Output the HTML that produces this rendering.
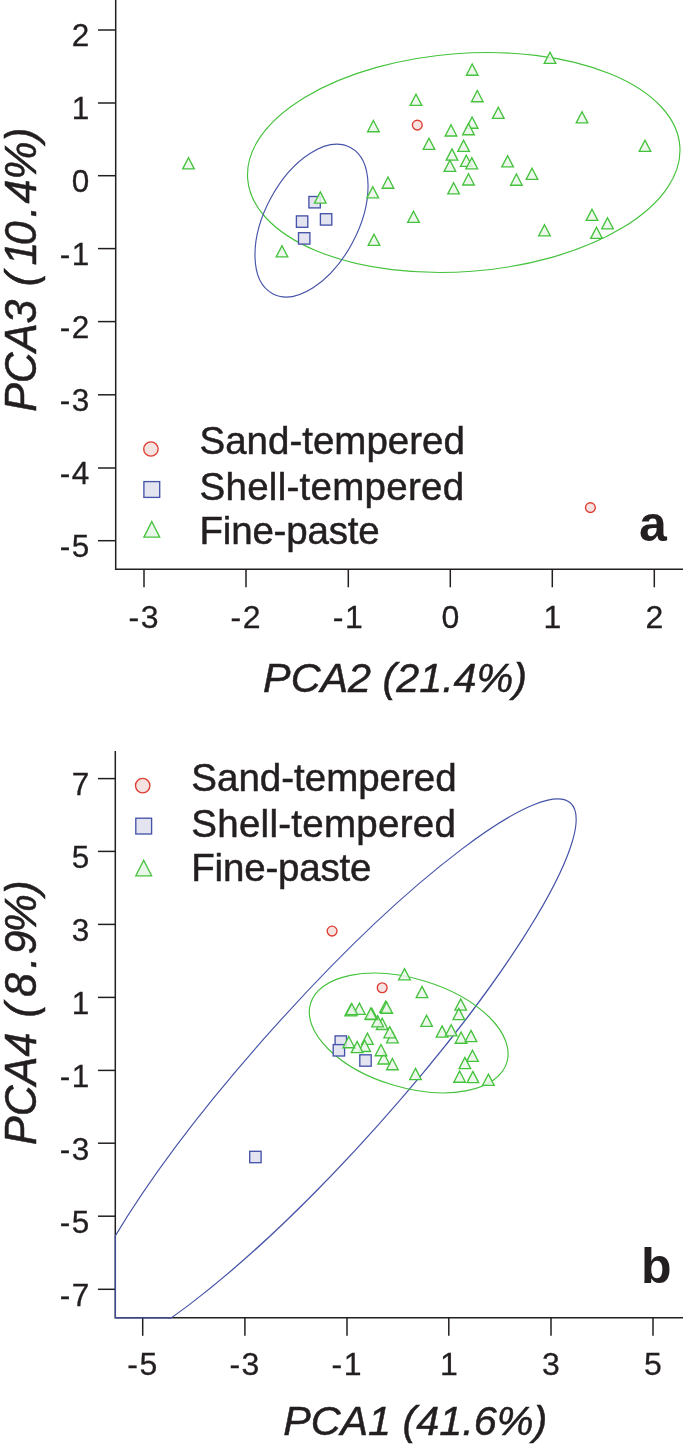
<!DOCTYPE html>
<html lang="en">
<head>
<meta charset="utf-8">
<title>PCA score plots</title>
<style>
html,body{margin:0;padding:0;background:#fff;}
svg{display:block;}
</style>
</head>
<body>
<svg width="685" height="1445" viewBox="0 0 685 1445">
<rect x="0" y="0" width="685" height="1445" fill="#ffffff"/>
<g stroke="#231f20" stroke-width="1.5" fill="none">
<path d="M115.7,0 V569.3 H683"/>
<path d="M98,30 H115.7"/>
<path d="M98,103 H115.7"/>
<path d="M98,175.7 H115.7"/>
<path d="M98,248.6 H115.7"/>
<path d="M98,321.6 H115.7"/>
<path d="M98,394.8 H115.7"/>
<path d="M98,468 H115.7"/>
<path d="M98,540.7 H115.7"/>
<path d="M144,569.3 V587.3"/>
<path d="M246,569.3 V587.3"/>
<path d="M348.3,569.3 V587.3"/>
<path d="M450.3,569.3 V587.3"/>
<path d="M552.3,569.3 V587.3"/>
<path d="M654.3,569.3 V587.3"/>
<path d="M115.3,751 V1317.8 H683"/>
<path d="M98,778.6 H115.3"/>
<path d="M98,851.4 H115.3"/>
<path d="M98,924.4 H115.3"/>
<path d="M98,997.4 H115.3"/>
<path d="M98,1070.4 H115.3"/>
<path d="M98,1143.2 H115.3"/>
<path d="M98,1216.2 H115.3"/>
<path d="M98,1289.3 H115.3"/>
<path d="M142.7,1317.8 V1335.8"/>
<path d="M244.9,1317.8 V1335.8"/>
<path d="M347,1317.8 V1335.8"/>
<path d="M448.8,1317.8 V1335.8"/>
<path d="M551,1317.8 V1335.8"/>
<path d="M653,1317.8 V1335.8"/>
</g>
<ellipse cx="463.75" cy="162.5" rx="216.7" ry="109.1" transform="rotate(-4.33 463.75 162.5)" fill="none" stroke="#45c23d" stroke-width="1.15"/>
<ellipse cx="311.5" cy="220.6" rx="82.8" ry="46.5" transform="rotate(-62 311.5 220.6)" fill="none" stroke="#4553a8" stroke-width="1.15"/>
<clipPath id="cb"><rect x="114.8" y="740" width="600" height="578.5"/></clipPath>
<g clip-path="url(#cb)"><ellipse cx="325.4" cy="1077" rx="367.6" ry="71.3" transform="rotate(-48.19 325.4 1077)" fill="none" stroke="#4553a8" stroke-width="1.15"/></g>
<path d="M115.3,1235.9 V1317.8 H171.3" fill="none" stroke="#4553a8" stroke-width="1.15"/>
<ellipse cx="408.7" cy="1033" rx="102.5" ry="54.35" transform="rotate(16.7 408.7 1033)" fill="none" stroke="#45c23d" stroke-width="1.15"/>
<g fill="#e4e4f1" stroke="#4553a8" stroke-width="1.35"><rect x="308.9" y="196.5" width="11.4" height="11.4"/><rect x="296.4" y="215.9" width="11.4" height="11.4"/><rect x="320.4" y="213.7" width="11.4" height="11.4"/><rect x="298.5" y="232.7" width="11.4" height="11.4"/></g>
<g fill="#f5e3e2" stroke="#df3b31" stroke-width="1.35"><circle cx="417.3" cy="125.1" r="4.9"/><circle cx="590.4" cy="507.6" r="4.9"/></g>
<g fill="#eaf6e9" fill-opacity="0.85" stroke="#45c23d" stroke-width="1.35" stroke-linejoin="miter"><polygon points="550.0,52.2 555.8,63.4 544.2,63.4"/><polygon points="472.2,64.0 478.0,75.2 466.4,75.2"/><polygon points="416.0,94.2 421.8,105.4 410.2,105.4"/><polygon points="477.3,90.5 483.1,101.7 471.5,101.7"/><polygon points="498.3,107.2 504.1,118.4 492.5,118.4"/><polygon points="582.0,111.7 587.8,122.9 576.2,122.9"/><polygon points="373.4,120.5 379.2,131.7 367.6,131.7"/><polygon points="472.1,117.0 477.9,128.2 466.3,128.2"/><polygon points="468.5,123.5 474.3,134.7 462.7,134.7"/><polygon points="451.0,124.8 456.8,136.0 445.2,136.0"/><polygon points="645.0,140.2 650.8,151.4 639.2,151.4"/><polygon points="429.0,138.2 434.8,149.4 423.2,149.4"/><polygon points="463.6,140.2 469.4,151.4 457.8,151.4"/><polygon points="452.0,148.9 457.8,160.1 446.2,160.1"/><polygon points="466.3,155.2 472.1,166.4 460.5,166.4"/><polygon points="471.8,157.6 477.6,168.8 466.0,168.8"/><polygon points="449.9,160.2 455.7,171.4 444.1,171.4"/><polygon points="507.6,155.7 513.4,166.9 501.8,166.9"/><polygon points="532.0,168.2 537.8,179.4 526.2,179.4"/><polygon points="516.4,174.0 522.2,185.2 510.6,185.2"/><polygon points="468.5,173.8 474.3,185.0 462.7,185.0"/><polygon points="453.6,182.7 459.4,193.9 447.8,193.9"/><polygon points="388.0,177.0 393.8,188.2 382.2,188.2"/><polygon points="372.8,186.7 378.6,197.9 367.0,197.9"/><polygon points="413.5,211.2 419.3,222.4 407.7,222.4"/><polygon points="374.0,234.2 379.8,245.4 368.2,245.4"/><polygon points="544.5,224.7 550.3,235.9 538.7,235.9"/><polygon points="592.0,209.2 597.8,220.4 586.2,220.4"/><polygon points="607.5,217.7 613.3,228.9 601.7,228.9"/><polygon points="596.5,227.2 602.3,238.4 590.7,238.4"/><polygon points="188.5,157.7 194.3,168.9 182.7,168.9"/><polygon points="320.3,191.9 326.1,203.1 314.5,203.1"/><polygon points="282.0,245.7 287.8,256.9 276.2,256.9"/></g>
<g fill="#e4e4f1" stroke="#4553a8" stroke-width="1.35"><rect x="335.1" y="1035.9" width="11.4" height="11.4"/><rect x="333.2" y="1044.6" width="11.4" height="11.4"/><rect x="359.8" y="1054.8" width="11.4" height="11.4"/><rect x="249.7" y="1151.3" width="11.4" height="11.4"/></g>
<g fill="#f5e3e2" stroke="#df3b31" stroke-width="1.35"><circle cx="332.1" cy="931.1" r="4.9"/><circle cx="382.2" cy="987.7" r="4.9"/></g>
<g fill="#eaf6e9" fill-opacity="0.85" stroke="#45c23d" stroke-width="1.35" stroke-linejoin="miter"><polygon points="404.5,968.6 410.3,979.8 398.7,979.8"/><polygon points="422.0,986.4 427.8,997.6 416.2,997.6"/><polygon points="460.7,998.9 466.5,1010.1 454.9,1010.1"/><polygon points="458.8,1008.4 464.6,1019.6 453.0,1019.6"/><polygon points="426.6,1015.2 432.4,1026.4 420.8,1026.4"/><polygon points="442.1,1025.9 447.9,1037.1 436.3,1037.1"/><polygon points="451.2,1024.7 457.0,1035.9 445.4,1035.9"/><polygon points="461.1,1032.0 466.9,1043.2 455.3,1043.2"/><polygon points="471.0,1030.4 476.8,1041.6 465.2,1041.6"/><polygon points="472.5,1050.2 478.3,1061.4 466.7,1061.4"/><polygon points="464.9,1057.4 470.7,1068.6 459.1,1068.6"/><polygon points="459.6,1071.0 465.4,1082.2 453.8,1082.2"/><polygon points="472.9,1071.4 478.7,1082.6 467.1,1082.6"/><polygon points="488.4,1074.1 494.2,1085.3 482.6,1085.3"/><polygon points="415.5,1068.4 421.3,1079.6 409.7,1079.6"/><polygon points="392.4,1058.5 398.2,1069.7 386.6,1069.7"/><polygon points="383.7,1052.8 389.5,1064.0 377.9,1064.0"/><polygon points="381.0,1044.5 386.8,1055.7 375.2,1055.7"/><polygon points="392.4,1031.6 398.2,1042.8 386.6,1042.8"/><polygon points="389.7,1026.6 395.5,1037.8 383.9,1037.8"/><polygon points="382.2,1018.3 388.0,1029.5 376.4,1029.5"/><polygon points="377.6,1015.6 383.4,1026.8 371.8,1026.8"/><polygon points="371.9,1008.4 377.7,1019.6 366.1,1019.6"/><polygon points="370.8,1008.0 376.6,1019.2 365.0,1019.2"/><polygon points="385.6,1001.2 391.4,1012.4 379.8,1012.4"/><polygon points="386.7,1002.0 392.5,1013.2 380.9,1013.2"/><polygon points="359.4,1003.1 365.2,1014.3 353.6,1014.3"/><polygon points="350.7,1004.6 356.5,1015.8 344.9,1015.8"/><polygon points="351.8,1003.5 357.6,1014.7 346.0,1014.7"/><polygon points="367.4,1033.1 373.2,1044.3 361.6,1044.3"/><polygon points="364.7,1040.3 370.5,1051.5 358.9,1051.5"/><polygon points="357.1,1041.4 362.9,1052.6 351.3,1052.6"/><polygon points="348.8,1036.5 354.6,1047.7 343.0,1047.7"/></g>
<circle cx="150.9" cy="449" r="7.2" fill="#f5e3e2" stroke="#df3b31" stroke-width="1.35"/>
<rect x="143.9" y="481.6" width="15.8" height="15.8" fill="#e4e4f1" stroke="#4553a8" stroke-width="1.35"/>
<g fill="#eaf6e9" stroke="#45c23d" stroke-width="1.35"><polygon points="151.8,521.5 159.7,537.1 143.9,537.1"/></g>
<circle cx="142.7" cy="785.6" r="7.2" fill="#f5e3e2" stroke="#df3b31" stroke-width="1.35"/>
<rect x="135.79999999999998" y="818.2" width="15.8" height="15.8" fill="#e4e4f1" stroke="#4553a8" stroke-width="1.35"/>
<g fill="#eaf6e9" stroke="#45c23d" stroke-width="1.35"><polygon points="143.7,860.2 151.6,875.8 135.8,875.8"/></g>
<g font-family='"Liberation Sans", "DejaVu Sans", sans-serif' fill="#231f20">
<text x="89.4" y="46.4" font-size="31.5" stroke="#231f20" stroke-width="0.3" text-anchor="end">2</text>
<text x="89.4" y="119.4" font-size="31.5" stroke="#231f20" stroke-width="0.3" text-anchor="end">1</text>
<text x="89.4" y="192.1" font-size="31.5" stroke="#231f20" stroke-width="0.3" text-anchor="end">0</text>
<text x="89.4" y="265.0" font-size="31.5" stroke="#231f20" stroke-width="0.3" text-anchor="end" dx="0 1.5">-1</text>
<text x="89.4" y="338.0" font-size="31.5" stroke="#231f20" stroke-width="0.3" text-anchor="end" dx="0 1.5">-2</text>
<text x="89.4" y="411.2" font-size="31.5" stroke="#231f20" stroke-width="0.3" text-anchor="end" dx="0 1.5">-3</text>
<text x="89.4" y="484.4" font-size="31.5" stroke="#231f20" stroke-width="0.3" text-anchor="end" dx="0 1.5">-4</text>
<text x="89.4" y="557.1" font-size="31.5" stroke="#231f20" stroke-width="0.3" text-anchor="end" dx="0 1.5">-5</text>
<text x="143.5" y="627.5" font-size="32" stroke="#231f20" stroke-width="0.3" text-anchor="middle" dx="0 1.5">-3</text>
<text x="245.5" y="627.5" font-size="32" stroke="#231f20" stroke-width="0.3" text-anchor="middle" dx="0 1.5">-2</text>
<text x="347.8" y="627.5" font-size="32" stroke="#231f20" stroke-width="0.3" text-anchor="middle" dx="0 1.5">-1</text>
<text x="450.3" y="627.5" font-size="32" stroke="#231f20" stroke-width="0.3" text-anchor="middle">0</text>
<text x="552.3" y="627.5" font-size="32" stroke="#231f20" stroke-width="0.3" text-anchor="middle">1</text>
<text x="654.3" y="627.5" font-size="32" stroke="#231f20" stroke-width="0.3" text-anchor="middle">2</text>
<text x="89.4" y="795.0" font-size="31.5" stroke="#231f20" stroke-width="0.3" text-anchor="end">7</text>
<text x="89.4" y="867.8" font-size="31.5" stroke="#231f20" stroke-width="0.3" text-anchor="end">5</text>
<text x="89.4" y="940.8" font-size="31.5" stroke="#231f20" stroke-width="0.3" text-anchor="end">3</text>
<text x="89.4" y="1013.8" font-size="31.5" stroke="#231f20" stroke-width="0.3" text-anchor="end">1</text>
<text x="89.4" y="1086.8" font-size="31.5" stroke="#231f20" stroke-width="0.3" text-anchor="end" dx="0 1.5">-1</text>
<text x="89.4" y="1159.6" font-size="31.5" stroke="#231f20" stroke-width="0.3" text-anchor="end" dx="0 1.5">-3</text>
<text x="89.4" y="1232.6" font-size="31.5" stroke="#231f20" stroke-width="0.3" text-anchor="end" dx="0 1.5">-5</text>
<text x="89.4" y="1305.7" font-size="31.5" stroke="#231f20" stroke-width="0.3" text-anchor="end" dx="0 1.5">-7</text>
<text x="142.2" y="1375.4" font-size="32" stroke="#231f20" stroke-width="0.3" text-anchor="middle" dx="0 1.5">-5</text>
<text x="244.4" y="1375.4" font-size="32" stroke="#231f20" stroke-width="0.3" text-anchor="middle" dx="0 1.5">-3</text>
<text x="346.5" y="1375.4" font-size="32" stroke="#231f20" stroke-width="0.3" text-anchor="middle" dx="0 1.5">-1</text>
<text x="448.8" y="1375.4" font-size="32" stroke="#231f20" stroke-width="0.3" text-anchor="middle">1</text>
<text x="551" y="1375.4" font-size="32" stroke="#231f20" stroke-width="0.3" text-anchor="middle">3</text>
<text x="653" y="1375.4" font-size="32" stroke="#231f20" stroke-width="0.3" text-anchor="middle">5</text>
<text x="199.5" y="454" font-size="38.5" stroke="#231f20" stroke-width="0.5" letter-spacing="0">Sand-tempered</text>
<text x="199.5" y="500" font-size="38.5" stroke="#231f20" stroke-width="0.5" letter-spacing="0.27">Shell-tempered</text>
<text x="199.5" y="544.4" font-size="38.5" stroke="#231f20" stroke-width="0.5" letter-spacing="-0.2">Fine-paste</text>
<text x="191.3" y="791.1" font-size="38.5" stroke="#231f20" stroke-width="0.5" letter-spacing="0">Sand-tempered</text>
<text x="191.3" y="836.6" font-size="38.5" stroke="#231f20" stroke-width="0.5" letter-spacing="0.27">Shell-tempered</text>
<text x="191.3" y="880.9" font-size="38.5" stroke="#231f20" stroke-width="0.5" letter-spacing="-0.2">Fine-paste</text>
<text x="263.1" y="692" font-size="41.3" font-style="italic" stroke="#231f20" stroke-width="0.5">PCA2 (21.4%)</text>
<text x="283.2" y="1435" font-size="41.3" font-style="italic" stroke="#231f20" stroke-width="0.5">PCA1 (41.6%)</text>
<text transform="translate(35.6 408.3) rotate(-90) scale(0.956 1)" font-size="45" font-style="italic" stroke="#231f20" stroke-width="0.5" dx="-3.7 0.0 0.0 0.0 0.0 1.2 6.7 -3.7 3.7 2.3 0.0 -0.7">PCA3 (10.4%)</text>
<text transform="translate(35.9 1141.4) rotate(-90) scale(0.956 1)" font-size="45" font-style="italic" stroke="#231f20" stroke-width="0.5" dx="-3.7 0.0 0.0 0.0 0.0 3.2 6.5 4.5 2.5 -2.0 -0.6">PCA4 (8.9%)</text>
<text x="653" y="541" font-size="50" font-weight="bold" text-anchor="middle">a</text>
<text x="656.3" y="1283" font-size="50" font-weight="bold" text-anchor="middle">b</text>
</g>
</svg>
</body>
</html>
